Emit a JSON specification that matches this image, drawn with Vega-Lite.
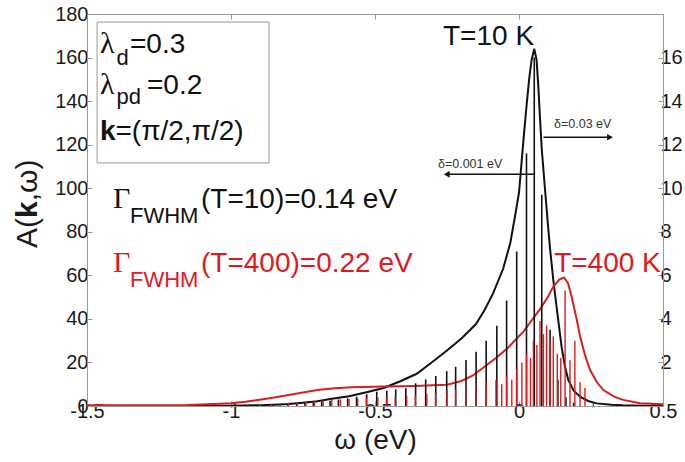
{
  "$schema": "https://vega.github.io/schema/vega-lite/v6.json",
  "width": 576,
  "height": 392,
  "autosize": {"type": "none"},
  "padding": {"left": 87, "top": 14, "right": 22, "bottom": 56},
  "background": "white",
  "config": {
    "view": {"stroke": "#9a9a9a", "strokeWidth": 1},
    "font": "Liberation Sans",
    "axis": {"grid": false, "domainColor": "#9a9a9a", "tickColor": "#9a9a9a", "labelColor": "#1a1a1a", "titleColor": "#1a1a1a", "labelFont": "Liberation Sans", "titleFont": "Liberation Sans", "labelFontSize": 20, "titleFontSize": 28, "titleFontWeight": "normal"}
  },
  "datasets": {
    "blackCurve": [
      {"w": -1.5, "A": 0}, {"w": -1.2, "A": 0.05}, {"w": -1.0, "A": 0.15}, {"w": -0.9, "A": 0.35}, {"w": -0.85, "A": 0.6}, {"w": -0.8, "A": 0.9}, {"w": -0.75, "A": 1.5}, {"w": -0.7, "A": 2.2}, {"w": -0.65, "A": 3.3}, {"w": -0.59, "A": 4.5}, {"w": -0.53, "A": 6.3}, {"w": -0.47, "A": 8.3}, {"w": -0.41, "A": 11.5}, {"w": -0.355, "A": 14.8}, {"w": -0.3, "A": 20.3}, {"w": -0.25, "A": 25.5}, {"w": -0.2, "A": 31}, {"w": -0.15, "A": 37.5}, {"w": -0.12, "A": 44}, {"w": -0.09, "A": 51.7}, {"w": -0.055, "A": 63}, {"w": -0.03, "A": 75}, {"w": -0.014, "A": 87}, {"w": 0.0, "A": 98}, {"w": 0.009, "A": 112}, {"w": 0.018, "A": 126}, {"w": 0.027, "A": 139}, {"w": 0.036, "A": 151}, {"w": 0.044, "A": 159}, {"w": 0.053, "A": 164}, {"w": 0.061, "A": 159}, {"w": 0.067, "A": 147}, {"w": 0.073, "A": 132}, {"w": 0.079, "A": 118}, {"w": 0.09, "A": 100}, {"w": 0.1, "A": 84}, {"w": 0.108, "A": 72}, {"w": 0.119, "A": 58}, {"w": 0.131, "A": 45}, {"w": 0.148, "A": 27}, {"w": 0.16, "A": 18}, {"w": 0.171, "A": 12}, {"w": 0.19, "A": 7}, {"w": 0.212, "A": 4.3}, {"w": 0.24, "A": 2.3}, {"w": 0.27, "A": 1.2}, {"w": 0.32, "A": 0.6}, {"w": 0.36, "A": 0.3}, {"w": 0.43, "A": 0.15}, {"w": 0.5, "A": 0.1}
    ],
    "redCurve": [
      {"w": -1.5, "A": 0.3}, {"w": -1.3, "A": 0.3}, {"w": -1.15, "A": 0.5}, {"w": -1.06, "A": 0.9}, {"w": -1.0, "A": 1.3}, {"w": -0.95, "A": 2.0}, {"w": -0.9, "A": 2.9}, {"w": -0.85, "A": 3.9}, {"w": -0.8, "A": 5.0}, {"w": -0.75, "A": 6.2}, {"w": -0.7, "A": 7.3}, {"w": -0.64, "A": 8.1}, {"w": -0.58, "A": 8.6}, {"w": -0.47, "A": 8.9}, {"w": -0.36, "A": 9.2}, {"w": -0.3, "A": 9.5}, {"w": -0.25, "A": 9.8}, {"w": -0.2, "A": 11.5}, {"w": -0.16, "A": 14}, {"w": -0.12, "A": 18}, {"w": -0.08, "A": 22}, {"w": -0.04, "A": 26.5}, {"w": -0.008, "A": 31}, {"w": 0.015, "A": 34}, {"w": 0.045, "A": 39.5}, {"w": 0.073, "A": 44.5}, {"w": 0.1, "A": 50}, {"w": 0.119, "A": 54.8}, {"w": 0.14, "A": 58}, {"w": 0.156, "A": 59}, {"w": 0.17, "A": 56.5}, {"w": 0.183, "A": 50}, {"w": 0.2, "A": 40}, {"w": 0.212, "A": 32}, {"w": 0.23, "A": 23}, {"w": 0.247, "A": 16.5}, {"w": 0.27, "A": 11}, {"w": 0.293, "A": 7.3}, {"w": 0.33, "A": 4.3}, {"w": 0.362, "A": 2.8}, {"w": 0.42, "A": 1.3}, {"w": 0.5, "A": 0.8}
    ],
    "blackSpikes": [
      {"w": -0.97, "A": 0.2}, {"w": -0.94, "A": 0.3}, {"w": -0.91, "A": 0.4}, {"w": -0.885, "A": 0.5}, {"w": -0.858, "A": 0.6}, {"w": -0.83, "A": 0.8}, {"w": -0.802, "A": 1.0}, {"w": -0.772, "A": 1.2}, {"w": -0.743, "A": 1.4}, {"w": -0.714, "A": 1.6}, {"w": -0.685, "A": 2.0}, {"w": -0.656, "A": 2.4}, {"w": -0.627, "A": 3.0}, {"w": -0.595, "A": 3.5}, {"w": -0.564, "A": 4.3}, {"w": -0.529, "A": 5.4}, {"w": -0.494, "A": 6.6}, {"w": -0.459, "A": 7.0}, {"w": -0.428, "A": 7.6}, {"w": -0.393, "A": 8.1}, {"w": -0.359, "A": 10.4}, {"w": -0.324, "A": 12.2}, {"w": -0.289, "A": 13.8}, {"w": -0.251, "A": 16.0}, {"w": -0.22, "A": 18}, {"w": -0.184, "A": 21.1}, {"w": -0.149, "A": 24.9}, {"w": -0.114, "A": 30}, {"w": -0.077, "A": 36.9}, {"w": -0.043, "A": 48.4}, {"w": -0.008, "A": 70.9}, {"w": 0.026, "A": 116}, {"w": 0.053, "A": 160}, {"w": 0.079, "A": 97}, {"w": 0.108, "A": 35}, {"w": 0.135, "A": 12}, {"w": 0.163, "A": 4}, {"w": 0.19, "A": 1.5}
    ],
    "redSpikes": [
      {"w": -0.9, "A": 0.8}, {"w": -0.86, "A": 1.0}, {"w": -0.83, "A": 1.2}, {"w": -0.8, "A": 1.5}, {"w": -0.77, "A": 1.8}, {"w": -0.74, "A": 2.0}, {"w": -0.71, "A": 2.3}, {"w": -0.68, "A": 2.5}, {"w": -0.65, "A": 2.8}, {"w": -0.62, "A": 3.0}, {"w": -0.59, "A": 3.2}, {"w": -0.56, "A": 3.4}, {"w": -0.53, "A": 3.6}, {"w": -0.49, "A": 4.0}, {"w": -0.46, "A": 4.2}, {"w": -0.43, "A": 4.3}, {"w": -0.39, "A": 4.8}, {"w": -0.36, "A": 5.0}, {"w": -0.32, "A": 5.5}, {"w": -0.29, "A": 6}, {"w": -0.25, "A": 7}, {"w": -0.22, "A": 7.5}, {"w": -0.185, "A": 8.5}, {"w": -0.15, "A": 9.5}, {"w": -0.114, "A": 11}, {"w": -0.08, "A": 12}, {"w": -0.06, "A": 10}, {"w": -0.043, "A": 14}, {"w": -0.025, "A": 12}, {"w": -0.008, "A": 17}, {"w": 0.01, "A": 20}, {"w": 0.026, "A": 24}, {"w": 0.04, "A": 22}, {"w": 0.05, "A": 30}, {"w": 0.062, "A": 28}, {"w": 0.073, "A": 39}, {"w": 0.085, "A": 33}, {"w": 0.096, "A": 37}, {"w": 0.108, "A": 30}, {"w": 0.119, "A": 32}, {"w": 0.133, "A": 24}, {"w": 0.145, "A": 22}, {"w": 0.16, "A": 53}, {"w": 0.177, "A": 21}, {"w": 0.194, "A": 30}, {"w": 0.212, "A": 11}, {"w": 0.229, "A": 8.3}, {"w": 0.258, "A": 1.5}
    ],
    "box": [{"w1": -1.465, "w2": -0.868, "A1": 111.6, "A2": 176.3}],
    "arrows": [
      {"w1": 0.056, "w2": -0.251, "A": 106.4, "dir": "left"},
      {"w1": 0.085, "w2": 0.316, "A": 123.4, "dir": "right"}
    ],
    "notes": [
      {"w": -1.4549, "A": 161.9, "text": "λ", "role": "sym"},
      {"w": -1.3976, "A": 156.6, "text": "d", "role": "sub"},
      {"w": -1.3507, "A": 161.9, "text": "=0.3", "role": "main"},
      {"w": -1.4549, "A": 143.3, "text": "λ", "role": "sym"},
      {"w": -1.3976, "A": 138.7, "text": "pd", "role": "sub"},
      {"w": -1.2917, "A": 143.3, "text": "=0.2", "role": "main"},
      {"w": -1.4549, "A": 122.1, "text": "k", "role": "bold"},
      {"w": -1.401, "A": 122.1, "text": "=(π/2,π/2)", "role": "main"},
      {"w": -1.4097, "A": 90.8, "text": "Γ", "role": "sym"},
      {"w": -1.3507, "A": 84.0, "text": "FWHM", "role": "sub"},
      {"w": -1.1042, "A": 90.8, "text": "(T=10)=0.14 eV", "role": "main"},
      {"w": -1.4097, "A": 61.5, "text": "Γ", "role": "symRed"},
      {"w": -1.3507, "A": 54.6, "text": "FWHM", "role": "subRed"},
      {"w": -1.1042, "A": 61.5, "text": "(T=400)=0.22 eV", "role": "mainRed"},
      {"w": -0.2639, "A": 165.7, "text": "T=10 K", "role": "main"},
      {"w": 0.122, "A": 61.7, "text": "T=400 K", "role": "mainRed"},
      {"w": -0.2813, "A": 109.3, "text": "δ=0.001 eV", "role": "small"},
      {"w": 0.1215, "A": 127.6, "text": "δ=0.03 eV", "role": "small"},
      {"w": -1.6736, "A": 72.5, "text": "A(", "role": "ytitle"},
      {"w": -1.6736, "A": 86.3, "text": "k", "role": "ytitleBold"},
      {"w": -1.6736, "A": 94.0, "text": ",ω)", "role": "ytitle"}
    ]
  },
  "resolve": {"axis": {"x": "independent", "y": "independent"}},
  "layer": [
    {
      "data": {"name": "blackCurve"},
      "mark": {"type": "line", "color": "#111111", "strokeWidth": 2, "clip": true},
      "encoding": {
        "x": {"field": "w", "type": "quantitative", "scale": {"domain": [-1.5, 0.5], "nice": false, "zero": false},
          "axis": {"values": [-1.5, -1, -0.5, 0, 0.5], "labelExpr": "'' + datum.value", "title": "ω (eV)", "tickSize": -5, "labelPadding": 0, "titlePadding": 5, "labelFlush": false}},
        "y": {"field": "A", "type": "quantitative", "scale": {"domain": [0, 180], "nice": false},
          "axis": {"values": [0, 20, 40, 60, 80, 100, 120, 140, 160, 180], "title": null, "tickSize": -5, "labelPadding": 4}}
      }
    },
    {
      "data": {"name": "redCurve"},
      "mark": {"type": "line", "color": "#d81e1e", "strokeWidth": 2, "clip": true},
      "encoding": {
        "x": {"field": "w", "type": "quantitative", "axis": {"orient": "top", "values": [-1, -0.5, 0], "labels": false, "title": null, "tickSize": -5}},
        "y": {"field": "A", "type": "quantitative", "axis": {"orient": "right", "values": [20, 40, 60, 80, 100, 120, 140, 160], "labelExpr": "'' + datum.value / 10", "title": null, "tickSize": -5, "labelPadding": 2}}
      }
    },
    {
      "data": {"name": "blackSpikes"},
      "mark": {"type": "rule", "color": "#111111", "strokeWidth": 1.6},
      "encoding": {
        "x": {"field": "w", "type": "quantitative", "axis": null},
        "y": {"field": "A", "type": "quantitative", "axis": null},
        "y2": {"datum": 0}
      }
    },
    {
      "data": {"name": "redSpikes"},
      "mark": {"type": "rule", "color": "#e01a1a", "strokeWidth": 1.4},
      "encoding": {
        "x": {"field": "w", "type": "quantitative", "axis": null},
        "y": {"field": "A", "type": "quantitative", "axis": null},
        "y2": {"datum": 0}
      }
    },
    {
      "data": {"name": "box"},
      "mark": {"type": "rect", "fill": null, "fillOpacity": 0, "stroke": "#9a9a9a", "strokeWidth": 1},
      "encoding": {
        "x": {"field": "w1", "type": "quantitative", "axis": null},
        "x2": {"field": "w2"},
        "y": {"field": "A1", "type": "quantitative", "axis": null},
        "y2": {"field": "A2"}
      }
    },
    {
      "data": {"name": "arrows"},
      "mark": {"type": "rule", "color": "#111111", "strokeWidth": 1.5},
      "encoding": {
        "x": {"field": "w1", "type": "quantitative", "axis": null},
        "x2": {"field": "w2"},
        "y": {"field": "A", "type": "quantitative", "axis": null}
      }
    },
    {
      "data": {"name": "arrows"},
      "mark": {"type": "point", "filled": true, "color": "#111111", "opacity": 1, "size": 45},
      "encoding": {
        "x": {"field": "w2", "type": "quantitative", "axis": null},
        "y": {"field": "A", "type": "quantitative", "axis": null},
        "shape": {"field": "dir", "type": "nominal", "scale": {"domain": ["left", "right"], "range": ["triangle-left", "triangle-right"]}, "legend": null}
      }
    },
    {
      "data": {"name": "notes"},
      "transform": [{"filter": "datum.role === 'sym'"}],
      "mark": {"type": "text", "align": "left", "baseline": "alphabetic", "font": "Liberation Serif", "fontSize": 30, "color": "#111111"},
      "encoding": {
        "x": {"field": "w", "type": "quantitative", "axis": null},
        "y": {"field": "A", "type": "quantitative", "axis": null},
        "text": {"field": "text"}
      }
    },
    {
      "data": {"name": "notes"},
      "transform": [{"filter": "datum.role === 'symRed'"}],
      "mark": {"type": "text", "align": "left", "baseline": "alphabetic", "font": "Liberation Serif", "fontSize": 30, "color": "#e0191f"},
      "encoding": {
        "x": {"field": "w", "type": "quantitative", "axis": null},
        "y": {"field": "A", "type": "quantitative", "axis": null},
        "text": {"field": "text"}
      }
    },
    {
      "data": {"name": "notes"},
      "transform": [{"filter": "datum.role === 'main'"}],
      "mark": {"type": "text", "align": "left", "baseline": "alphabetic", "font": "Liberation Sans", "fontSize": 28, "color": "#111111"},
      "encoding": {
        "x": {"field": "w", "type": "quantitative", "axis": null},
        "y": {"field": "A", "type": "quantitative", "axis": null},
        "text": {"field": "text"}
      }
    },
    {
      "data": {"name": "notes"},
      "transform": [{"filter": "datum.role === 'mainRed'"}],
      "mark": {"type": "text", "align": "left", "baseline": "alphabetic", "font": "Liberation Sans", "fontSize": 28, "color": "#e0191f"},
      "encoding": {
        "x": {"field": "w", "type": "quantitative", "axis": null},
        "y": {"field": "A", "type": "quantitative", "axis": null},
        "text": {"field": "text"}
      }
    },
    {
      "data": {"name": "notes"},
      "transform": [{"filter": "datum.role === 'sub'"}],
      "mark": {"type": "text", "align": "left", "baseline": "alphabetic", "font": "Liberation Sans", "fontSize": 22, "color": "#111111"},
      "encoding": {
        "x": {"field": "w", "type": "quantitative", "axis": null},
        "y": {"field": "A", "type": "quantitative", "axis": null},
        "text": {"field": "text"}
      }
    },
    {
      "data": {"name": "notes"},
      "transform": [{"filter": "datum.role === 'subRed'"}],
      "mark": {"type": "text", "align": "left", "baseline": "alphabetic", "font": "Liberation Sans", "fontSize": 22, "color": "#e0191f"},
      "encoding": {
        "x": {"field": "w", "type": "quantitative", "axis": null},
        "y": {"field": "A", "type": "quantitative", "axis": null},
        "text": {"field": "text"}
      }
    },
    {
      "data": {"name": "notes"},
      "transform": [{"filter": "datum.role === 'bold'"}],
      "mark": {"type": "text", "align": "left", "baseline": "alphabetic", "font": "Liberation Sans", "fontSize": 28, "fontWeight": "bold", "color": "#111111"},
      "encoding": {
        "x": {"field": "w", "type": "quantitative", "axis": null},
        "y": {"field": "A", "type": "quantitative", "axis": null},
        "text": {"field": "text"}
      }
    },
    {
      "data": {"name": "notes"},
      "transform": [{"filter": "datum.role === 'small'"}],
      "mark": {"type": "text", "align": "left", "baseline": "alphabetic", "font": "Liberation Sans", "fontSize": 12.5, "color": "#333333"},
      "encoding": {
        "x": {"field": "w", "type": "quantitative", "axis": null},
        "y": {"field": "A", "type": "quantitative", "axis": null},
        "text": {"field": "text"}
      }
    },
    {
      "data": {"name": "notes"},
      "transform": [{"filter": "datum.role === 'ytitle'"}],
      "mark": {"type": "text", "align": "left", "baseline": "alphabetic", "angle": 270, "font": "Liberation Sans", "fontSize": 30, "color": "#1a1a1a"},
      "encoding": {
        "x": {"field": "w", "type": "quantitative", "axis": null},
        "y": {"field": "A", "type": "quantitative", "axis": null},
        "text": {"field": "text"}
      }
    },
    {
      "data": {"name": "notes"},
      "transform": [{"filter": "datum.role === 'ytitleBold'"}],
      "mark": {"type": "text", "align": "left", "baseline": "alphabetic", "angle": 270, "font": "Liberation Sans", "fontSize": 30, "fontWeight": "bold", "color": "#1a1a1a"},
      "encoding": {
        "x": {"field": "w", "type": "quantitative", "axis": null},
        "y": {"field": "A", "type": "quantitative", "axis": null},
        "text": {"field": "text"}
      }
    }
  ]
}
